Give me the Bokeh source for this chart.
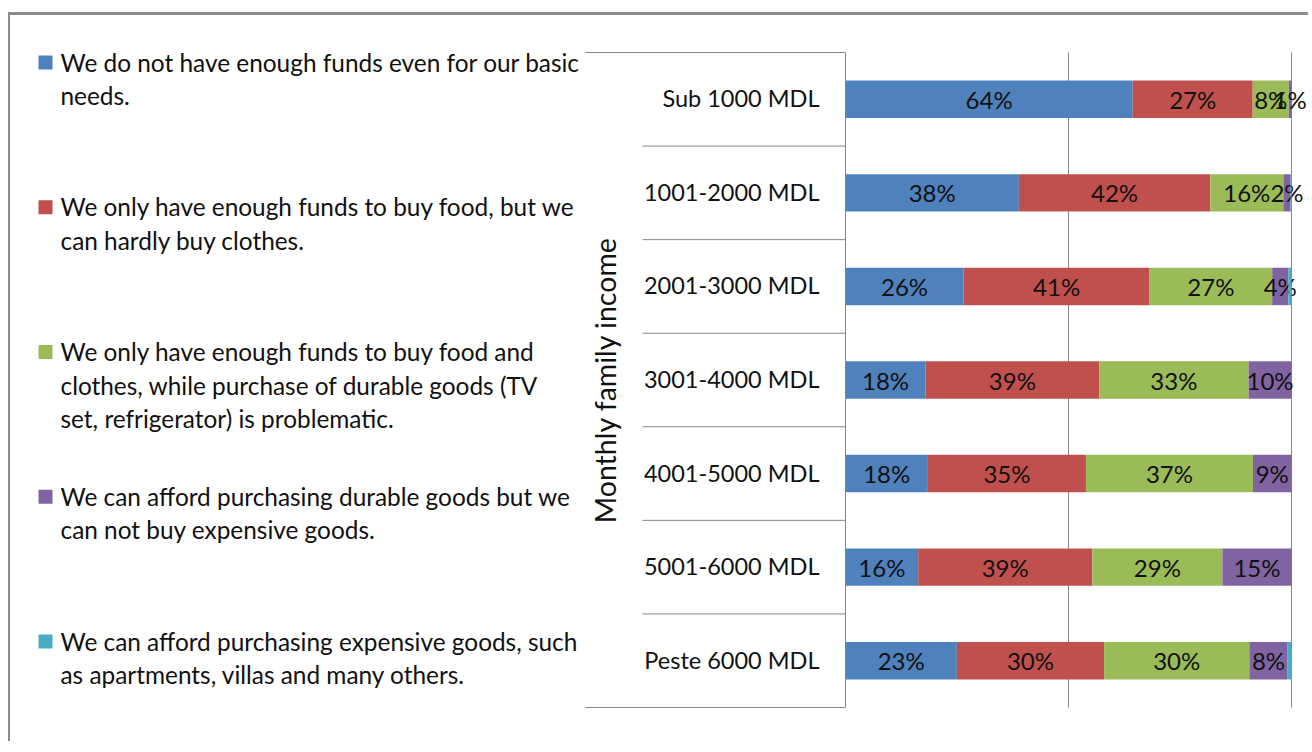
import numpy as np
from bokeh.plotting import figure
from bokeh.models import FactorRange, Range1d, ColumnDataSource
from bokeh.core.properties import value
from bokeh.embed import file_html
from bokeh.resources import INLINE

# ---------------- data ----------------
categories = ["Sub 1000 MDL", "1001-2000 MDL", "2001-3000 MDL", "3001-4000 MDL",
              "4001-5000 MDL", "5001-6000 MDL", "Peste 6000 MDL"]

series_labels = [
    "We do not have enough funds even for our basic\nneeds.",
    "We only have enough funds to buy food, but we\ncan hardly buy clothes.",
    "We only have enough funds to buy food and\nclothes, while purchase of durable goods (TV\nset, refrigerator) is problematic.",
    "We can afford purchasing durable goods but we\ncan not buy expensive goods.",
    "We can afford purchasing expensive goods, such\nas apartments, villas and many others.",
]
colors = ["#4F81BD", "#C0504D", "#9BBB59", "#8064A2", "#4BACC6"]

# answer shares (%) per income group
basic_needs  = [64.4, 38.4, 26.3, 17.9, 18.4, 16.2, 23.0]
food_only    = [26.9, 42.4, 41.4, 38.8, 35.3, 38.8, 30.4]
food_clothes = [8.1, 16.2, 27.3, 33.4, 37.3, 29.0, 30.0]
durable      = [0.6, 1.6, 3.6, 9.6, 8.6, 15.4, 7.9]
expensive    = [0.0, 0.2, 0.7, 0.0, 0.0, 0.0, 0.8]

grid_ticks = [0, 50, 100]
axis_title = "Monthly family income"

# ---------------- layout constants (page pixels) ----------------
W, H = 1300, 729
ORIGIN_X, ORIGIN_Y = 10, 15          # canvas origin on the page
ZERO_X, FULL_X = 845, 1291           # page x of 0 % and 100 %
PX = (FULL_X - ZERO_X) / 100.0       # pixels per percent
ROW = 93.57                          # pixels per category row
n = len(categories)
pad = (H - ROW * n) / 2.0 / ROW


def at_x(page_x):
    """page pixel -> percent axis units"""
    return (page_x - ZERO_X) / PX


def at_y(page_y):
    """page pixel -> synthetic categorical units"""
    return n + pad - (page_y - ORIGIN_Y) / ROW


FONT = value("Lato")
GRAY = "#868686"

factors = categories[::-1]           # bottom -> top
p = figure(width=W, height=H,
           x_range=Range1d(at_x(ORIGIN_X), at_x(ORIGIN_X + W)),
           y_range=FactorRange(factors=factors, range_padding=pad,
                               range_padding_units="absolute"),
           x_axis_location=None, y_axis_location=None,
           min_border=0, output_backend="svg", toolbar_location=None,
           outline_line_color=None)
p.xgrid.visible = False
p.ygrid.visible = False
p.styles = {"margin-top": "12px", "margin-left": "8px",
            "border-top": "3px solid #8c8c8c", "border-left": "2px solid #8c8c8c"}

# ---------------- gridlines / category separators ----------------
y_bot = (factors[0], -0.5)
y_top = (factors[-1], 0.5)
p.segment(x0=grid_ticks, y0=[y_bot] * len(grid_ticks), x1=grid_ticks,
          y1=[y_top] * len(grid_ticks), line_color=GRAY, line_width=1)

inner = [(f, -0.5) for f in factors[1:]]
p.segment(x0=[at_x(642)] * len(inner), y0=inner, x1=[0] * len(inner), y1=inner,
          line_color=GRAY, line_width=1)
p.segment(x0=[at_x(585)] * 2, y0=[y_bot, y_top], x1=[0, 0], y1=[y_bot, y_top],
          line_color=GRAY, line_width=1)

# ---------------- stacked bars (100 %) ----------------
raw = np.array([basic_needs, food_only, food_clothes, durable, expensive], dtype=float)
share = raw / raw.sum(axis=0) * 100.0
right = np.cumsum(share, axis=0)
left = right - share

for i in range(len(raw)):
    src = ColumnDataSource(dict(
        y=categories, left=left[i], right=right[i], mid=(left[i] + right[i]) / 2,
        label=[f"{round(v)}%" for v in raw[i]]))
    p.hbar(y="y", left="left", right="right", height=0.4, source=src,
           fill_color=colors[i], line_color=None)
    if i < 4:
        p.text(x="mid", y="y", text="label", source=src, text_align="center",
               text_baseline="middle", text_font=FONT, text_font_size="24px",
               text_color="#111111")

# ---------------- category labels & axis title ----------------
p.text(x=[0] * n, y=categories, text=categories, x_offset=-26, y_offset=-1,
       text_align="right", text_baseline="middle", text_font=FONT,
       text_font_size="23.5px", text_color="#111111")
p.text(x=[at_x(604)], y=[categories[n // 2]], text=[axis_title],
       angle=np.pi / 2, text_align="center", text_baseline="middle",
       text_font=FONT, text_font_size="28.5px", text_color="#111111")

# ---------------- legend ----------------
k = len(series_labels)
leg_page_y = [62 + j * 144.75 for j in range(k)]
p.scatter(x=[at_x(45)] * k, y=[at_y(v) for v in leg_page_y], marker="square",
          size=14, fill_color=colors, line_color=None)
p.text(x=[at_x(60)] * k, y=[at_y(v - 15) for v in leg_page_y], text=series_labels,
       text_align="left", text_baseline="top", text_font=FONT,
       text_font_size="24.4px", text_line_height=1.16, text_color="#111111")

open("out.html", "w").write(file_html(p, INLINE))
